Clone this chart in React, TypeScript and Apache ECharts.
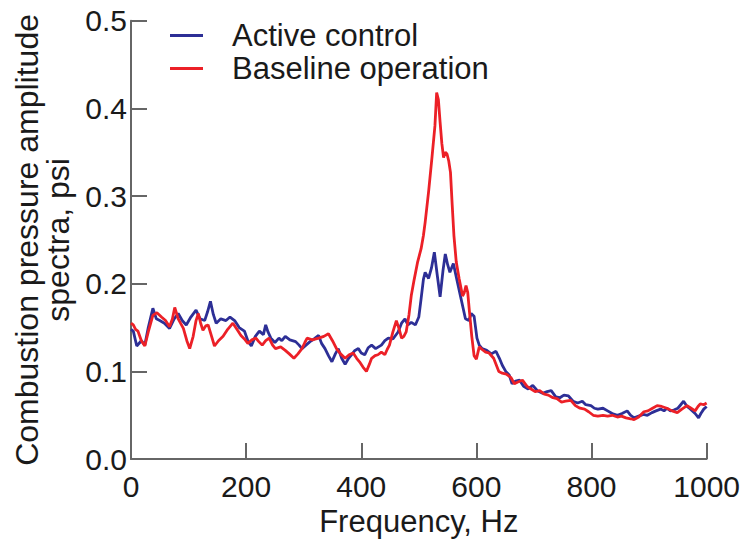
import React, { useEffect, useRef } from "react";
import * as echarts from "echarts";

const xTicks = [0, 200, 400, 600, 800, 1000];
const yTicks = [0, 0.1, 0.2, 0.3, 0.4, 0.5];

const activeFreq = [
  0, 4, 10, 18, 24, 30, 38, 44, 50, 58, 67, 75, 82, 89, 96, 104, 113, 120, 128, 133,
  138, 143, 148, 156, 165, 172, 180, 188, 197, 203, 209, 216, 223, 230, 234, 238, 243, 250, 257, 262,
  268, 276, 286, 292, 297, 304, 311, 318, 326, 331, 337, 343, 349, 355, 360, 366, 372, 378, 383, 389,
  395, 400, 406, 412, 418, 425, 435, 441, 447, 455, 464, 470, 476, 481, 487, 494, 500, 504, 508, 511,
  517, 522, 527, 532, 537, 542, 546, 550, 554, 560, 566, 572, 577, 581, 587, 591, 596, 601, 605, 610,
  618, 626, 634, 640, 645, 651, 657, 662, 668, 675, 682, 690, 698, 706, 715, 723, 730, 738, 745, 752,
  760, 768, 776, 784, 790, 799, 805, 811, 820, 828, 836, 845, 853, 862, 868, 874, 882, 890, 897, 905,
  912, 920, 926, 931, 937, 943, 950, 955, 960, 966, 972, 980, 986, 990, 995, 1000,
];
const activeValues = [
  0.148, 0.146, 0.129, 0.135, 0.13, 0.15, 0.172, 0.16, 0.158, 0.155, 0.149, 0.16, 0.166, 0.158, 0.153, 0.162, 0.17, 0.16, 0.158, 0.168,
  0.18, 0.165, 0.155, 0.16, 0.158, 0.162, 0.158, 0.15, 0.146, 0.135, 0.129, 0.14, 0.146, 0.142, 0.153, 0.145, 0.138, 0.133, 0.138, 0.135,
  0.14, 0.136, 0.134, 0.13, 0.126, 0.13, 0.134, 0.137, 0.141, 0.132, 0.126, 0.118, 0.111, 0.12, 0.126, 0.115, 0.108, 0.115, 0.119, 0.124,
  0.126, 0.121, 0.119, 0.127, 0.13, 0.126, 0.13, 0.135, 0.138, 0.137, 0.145, 0.155, 0.16, 0.153, 0.156, 0.153, 0.162, 0.183, 0.205, 0.213,
  0.206, 0.218, 0.236, 0.21, 0.185, 0.215, 0.234, 0.222, 0.213, 0.223, 0.205, 0.187, 0.172, 0.16, 0.158, 0.166, 0.163, 0.138, 0.13, 0.126,
  0.124, 0.12, 0.123, 0.115, 0.107, 0.1, 0.096, 0.086, 0.089, 0.09, 0.083, 0.08, 0.084, 0.078, 0.075, 0.077, 0.078, 0.071, 0.07, 0.073,
  0.072, 0.066, 0.064, 0.066, 0.062, 0.061, 0.058, 0.057, 0.058, 0.055, 0.052, 0.05, 0.052, 0.055, 0.05, 0.047, 0.049, 0.051, 0.05, 0.053,
  0.055, 0.057, 0.055, 0.058, 0.055, 0.056, 0.058, 0.062, 0.066, 0.06, 0.057, 0.052, 0.047, 0.052, 0.057, 0.06,
];

const baselineFreq = [
  0, 4, 8, 12, 18, 24, 30, 38, 45, 53, 60, 67, 72, 76, 82, 91, 97, 102, 108, 113,
  117, 121, 125, 130, 134, 140, 145, 152, 160, 168, 177, 184, 191, 197, 203, 210, 217, 222, 228, 234,
  240, 246, 251, 260, 268, 275, 283, 290, 297, 302, 306, 315, 326, 335, 343, 350, 357, 364, 372, 379,
  386, 392, 397, 403, 409, 414, 418, 424, 429, 435, 441, 445, 449, 455, 461, 466, 470, 474, 478, 483,
  487, 492, 498, 504, 508, 511, 517, 523, 528, 531, 534, 537, 540, 543, 546, 549, 552, 555, 558, 561,
  565, 570, 576, 579, 582, 585, 588, 592, 596, 600, 605, 610, 616, 622, 630, 639, 645, 652, 660, 666,
  672, 680, 688, 695, 702, 710, 718, 725, 733, 740, 748, 755, 764, 772, 780, 788, 795, 803, 811, 820,
  828, 836, 845, 852, 860, 868, 874, 882, 891, 898, 906, 914, 922, 931, 940, 949, 957, 966, 973, 980,
  985, 989, 995, 1000,
];
const baselineValues = [
  0.155, 0.153, 0.148, 0.146, 0.135, 0.129, 0.145, 0.164, 0.167, 0.162, 0.158, 0.151, 0.16, 0.173, 0.16, 0.149, 0.135, 0.126, 0.14, 0.158,
  0.166, 0.155, 0.147, 0.152, 0.153, 0.14, 0.129, 0.135, 0.14, 0.148, 0.155, 0.148, 0.141, 0.137, 0.132, 0.136, 0.138, 0.134, 0.13, 0.135,
  0.138, 0.13, 0.126, 0.128, 0.124, 0.12, 0.115, 0.12, 0.126, 0.133, 0.138, 0.136, 0.138, 0.14, 0.143, 0.135, 0.126, 0.12, 0.115, 0.119,
  0.121, 0.115, 0.111, 0.105, 0.1, 0.108, 0.115, 0.118, 0.119, 0.122, 0.119, 0.125, 0.13, 0.145, 0.158, 0.148, 0.138, 0.14, 0.145, 0.165,
  0.187, 0.205, 0.225, 0.24, 0.255, 0.27, 0.305, 0.345, 0.38, 0.418, 0.41, 0.384, 0.36, 0.344, 0.35, 0.348, 0.34, 0.327, 0.29, 0.255,
  0.225, 0.206, 0.186, 0.19, 0.198, 0.19, 0.168, 0.14, 0.118, 0.114, 0.128, 0.125, 0.122, 0.121, 0.115, 0.1, 0.098, 0.097, 0.093, 0.086,
  0.088, 0.09, 0.083, 0.08, 0.077, 0.078, 0.074, 0.073, 0.07, 0.069, 0.065, 0.066, 0.067, 0.061, 0.058, 0.057, 0.054, 0.05, 0.049, 0.05,
  0.049, 0.05, 0.048, 0.049, 0.047, 0.046, 0.045, 0.048, 0.054, 0.055, 0.058, 0.061, 0.06, 0.058, 0.055, 0.053, 0.057, 0.061, 0.058, 0.055,
  0.06, 0.063, 0.062, 0.064,
];

const FONT = "'Liberation Sans', Arial, Helvetica, sans-serif";
const TEXT = "#1a1a1a";
const AXIS = "#666666";
const BLUE = "#2d2f96";
const RED = "#ec2027";

export default function App() {
  const ref = useRef<HTMLDivElement>(null);

  useEffect(() => {
    if (!ref.current) return;
    const chart = echarts.init(ref.current, undefined, { renderer: "svg" });
    const pair = (xs: number[], ys: number[]) => xs.map((x, i) => [x, ys[i]]);
    chart.setOption({
      animation: false,
      backgroundColor: "#ffffff",
      textStyle: { fontFamily: FONT },
      grid: { left: 131, right: 33.5, top: 20.7, bottom: 80.5, containLabel: false },
      legend: {
        orient: "vertical",
        left: 165,
        top: 15,
        itemWidth: 33,
        itemHeight: 3,
        itemGap: 2,
        icon: "rect",
        selectedMode: false,
        textStyle: {
          fontFamily: FONT,
          fontSize: 31,
          color: TEXT,
          lineHeight: 31,
          padding: [0, 0, 0, 24],
        },
        data: ["Active control", "Baseline operation"],
      },
      xAxis: {
        type: "value",
        min: xTicks[0],
        max: xTicks[xTicks.length - 1],
        interval: 200,
        name: "Frequency, Hz",
        nameLocation: "middle",
        nameGap: 46,
        nameTextStyle: { fontFamily: FONT, fontSize: 31, color: TEXT },
        axisLine: { show: true, lineStyle: { color: AXIS, width: 2 } },
        axisTick: { show: true, inside: true, length: 16, lineStyle: { color: AXIS, width: 2 } },
        axisLabel: {
          fontFamily: FONT,
          fontSize: 30,
          color: TEXT,
          margin: 12,
          formatter: (v: number) => String(v),
        },
        splitLine: { show: false },
      },
      yAxis: {
        type: "value",
        min: yTicks[0],
        max: yTicks[yTicks.length - 1],
        interval: 0.1,
        name: "Combustion pressure amplitude\nspectra, psi",
        nameLocation: "middle",
        nameRotate: 90,
        nameGap: 55,
        nameTextStyle: { fontFamily: FONT, fontSize: 32, color: TEXT, lineHeight: 31, align: "center" },
        axisLine: { show: true, lineStyle: { color: AXIS, width: 2 } },
        axisTick: { show: true, inside: true, length: 16, lineStyle: { color: AXIS, width: 2 } },
        axisLabel: {
          fontFamily: FONT,
          fontSize: 30,
          color: TEXT,
          margin: 4,
          formatter: (v: number) => v.toFixed(1),
        },
        splitLine: { show: false },
      },
      series: [
        {
          name: "Active control",
          type: "line",
          data: pair(activeFreq, activeValues),
          symbol: "none",
          color: BLUE,
          lineStyle: { color: BLUE, width: 2.8 },
        },
        {
          name: "Baseline operation",
          type: "line",
          data: pair(baselineFreq, baselineValues),
          symbol: "none",
          color: RED,
          lineStyle: { color: RED, width: 2.8 },
        },
      ],
    });
    return () => chart.dispose();
  }, []);

  return (
    <div
      ref={ref}
      style={{ position: "fixed", left: 0, top: 0, width: 743, height: 542, background: "#fff" }}
    />
  );
}
